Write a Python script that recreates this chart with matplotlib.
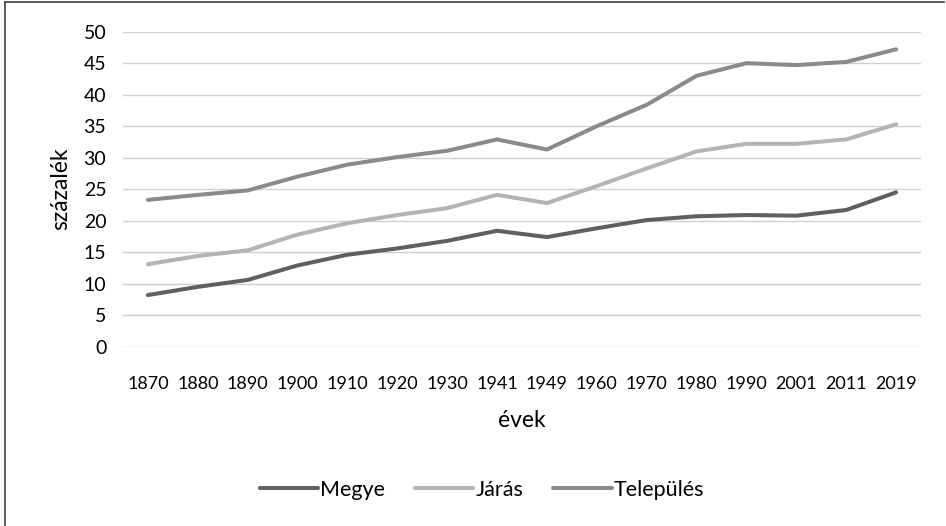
import matplotlib
matplotlib.use("Agg")
import matplotlib.pyplot as plt
from matplotlib.lines import Line2D

years = ["1870", "1880", "1890", "1900", "1910", "1920", "1930", "1941", "1949",
         "1960", "1970", "1980", "1990", "2001", "2011", "2019"]
megye = [8.2, 9.5, 10.6, 12.9, 14.6, 15.6, 16.8, 18.4, 17.4, 18.8, 20.1, 20.7, 20.9, 20.8, 21.7, 24.5]
jaras = [13.1, 14.4, 15.3, 17.8, 19.6, 20.9, 22.0, 24.1, 22.8, 25.5, 28.3, 31.0, 32.2, 32.2, 32.9, 35.3]
telepules = [23.3, 24.1, 24.8, 27.0, 28.9, 30.1, 31.1, 32.9, 31.3, 35.0, 38.4, 43.0, 45.0, 44.7, 45.2, 47.2]

plt.rcParams['font.family'] = ['Lato', 'DejaVu Sans']

W, H = 946, 526
fig = plt.figure(figsize=(W/100, H/100), dpi=100)
# frame (only left and top edges visible in reference)
fig.add_artist(Line2D([5/W, 5/W], [0, 1-2/H], transform=fig.transFigure, color='#404040', lw=1.2))
fig.add_artist(Line2D([5/W, 944/W], [1-2/H, 1-2/H], transform=fig.transFigure, color='#404040', lw=1.2))

left, right, top, bottom = 123, 921, 31.7, 346.7
ax = fig.add_axes([left/W, 1-bottom/H, (right-left)/W, (bottom-top)/H])

x = range(len(years))
ax.plot(x, megye, color='#5f5f5f', lw=2.9, solid_capstyle='round', label='Megye', zorder=3)
ax.plot(x, jaras, color='#b4b4b4', lw=2.9, solid_capstyle='round', label='Járás', zorder=3)
ax.plot(x, telepules, color='#8a8a8a', lw=2.9, solid_capstyle='round', label='Település', zorder=3)

ax.set_xlim(-0.5, len(years)-0.5)
ax.set_ylim(0, 50)
ax.set_yticks(range(0, 51, 5))
ax.set_xticks(list(x))
ax.set_xticklabels(years)
ax.grid(axis='y', color='#d0d0d0', lw=1.0)
ax.set_axisbelow(True)
for s in ax.spines.values():
    s.set_visible(False)
ax.tick_params(length=0, colors='black')
ax.tick_params(axis='y', pad=12, labelsize=14)
ax.tick_params(axis='x', pad=21, labelsize=13)
ax.set_ylabel('százalék', fontsize=16.5, labelpad=9)
ax.set_xlabel('évek', fontsize=16.5, labelpad=13)

leg = fig.legend(loc='center', bbox_to_anchor=(482/W, 1-490/H), ncol=3, frameon=False,
                 fontsize=15.5, handlelength=2.7, handletextpad=0.1, columnspacing=1.4)

fig.savefig('out.png', dpi=100)
